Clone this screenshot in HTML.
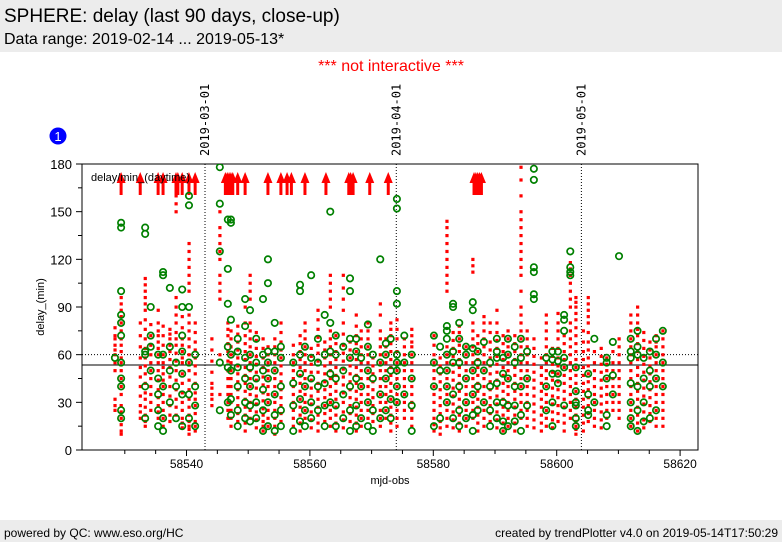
<!DOCTYPE html>
<html><head><meta charset="utf-8"><style>
body{margin:0;width:782px;height:542px;background:#fff;font-family:"Liberation Sans",sans-serif;overflow:hidden;position:relative}
.hdr{position:absolute;left:0;top:0;width:782px;height:52px;background:#ececec}
.ftr{position:absolute;left:0;top:520px;width:782px;height:22px;background:#ececec;font-size:12px}
</style></head><body>
<div class="hdr">
<div style="position:absolute;left:4px;top:6px;font-size:19px">SPHERE: delay (last 90 days, close-up)</div>
<div style="position:absolute;left:4px;top:31px;font-size:16px">Data range: 2019-02-14 ... 2019-05-13*</div>
</div>
<div style="position:absolute;left:0;width:782px;top:58px;text-align:center;color:#ff0000;font-size:16px">*** not interactive ***</div>
<div class="ftr">
<span style="position:absolute;left:4px;top:6px">powered by QC: www.eso.org/HC</span>
<span style="position:absolute;right:4px;top:6px">created by trendPlotter v4.0 on 2019-05-14T17:50:29</span>
</div>
<svg id="chart" width="782" height="542" style="position:absolute;left:0;top:0"></svg>
<script>
const xTicks=[58540,58560,58580,58600,58620];
const yTicks=[0,30,60,90,120,150,180];
const dateLines=[58543,58574,58604];
const dateLabels=["2019-03-01","2019-04-01","2019-05-01"];
const refSolid=53.5, refDotted=60;
const nights=[528.4,529.4,532.5,533.3,534.2,535.4,536.2,537.3,538.3,539.3,540.4,541.4,544.1,545.4,546.7,547.2,548.3,549.5,550.3,551.3,552.4,553.2,554.3,555.3,557.3,558.4,559.2,560.2,561.3,562.4,563.3,564.2,565.4,566.5,567.5,568.3,569.4,570.2,571.4,572.3,573.1,574.1,575.3,576.5,580.1,581.1,582.2,583.2,584.2,585.3,586.4,587.2,588.2,589.2,590.3,591.3,592.1,593.2,594.2,595.2,596.3,597.5,598.3,599.3,600.2,601.2,602.2,603.1,604.3,605.1,606.1,607.2,608.1,609.1,610.1,612.0,613.1,614.1,615.1,616.1,617.2].map(v=>58000+v);
const redVals=[[25,28,32,50,55,60,63,66,70,72,77],[10,12,16,20,24,28,35,40,45,50,55,58,62,66,70,75,80,84,88,92,96],[20,24,28,34,40,46,52,58,65,72,80],[15,18,22,27,32,36,42,48,53,58,64,70,76,82,88,92,96,100,104,108],[25,30,35,40,45,50,55,60,66,72,79],[20,24,28,33,38,44,50,55,60,64,68,72,75,80,88],[15,20,25,30,35,40,44,48,52,55,60,66,72,78],[18,22,28,34,40,46,52,57,62,66,70,73,76],[22,27,32,38,44,50,56,61,66,70,74,80,85,90,96,150,155,160],[14,17,20,25,30,36,42,48,55,58,62,66,70,77,84],[10,13,15,18,22,27,32,38,44,50,55,60,65,70,75,80,85,100,105,110,115,120,125,130],[12,15,18,23,28,32,36,42,48,53,58,63,68,74,80],[28,32,35,39,42,49,56,63,70],[35,60,95,100,105,110,120,125,130,135,140,150],[20,25,30,35,40,45,50,56,62,67,72,76,80],[15,20,25,30,35,40,45,50,55,60,65,70,75],[18,23,28,33,38,43,48,53,58,63,68,73,78],[12,17,22,27,32,37,42,47,52,57,62,67,72,80,90],[20,25,30,35,40,45,50,55,60,65,70,75,80,95,100,105,110],[14,19,24,29,34,39,44,49,54,59,64,69,74],[12,15,18,22,26,31,36,41,46,52,58,64,70],[15,20,25,30,35,40,45,50,55,60,65],[10,15,20,25,30,35,40,45,50,55,60,65,70],[18,23,28,33,38,43,48,53,58,63,68,74,80],[15,20,25,30,35,40,45,50,55,60,66],[12,17,22,27,32,37,42,47,52,57,62,67,72],[20,25,30,35,40,45,50,55,60,65,70,75,80],[14,19,24,29,34,39,44,49,54,59,64],[12,17,22,27,32,37,42,49,56,61,66,71,76,82,88],[18,23,28,33,38,43,48,53,58,63,68],[15,20,25,30,35,40,45,50,55,60,65,70,75,90,95,100,105,110],[12,17,22,27,32,37,42,47,52,57,62,67,72],[14,19,24,30,36,41,46,51,56,61,66,73,80,88,95,102,110],[18,23,28,33,38,43,48,53,58,63,68],[12,17,22,27,32,37,42,47,52,57,62,67,72,78,85],[15,20,25,30,35,40,45,50,55,60,65,70,75],[20,25,30,35,40,45,50,55,60,65,70,75,80],[18,23,28,33,38,43,48,53,58],[15,20,25,30,35,40,45,50,55,60,65,70,75,85,92],[20,25,30,35,40,45,50,55,60,65,70],[12,17,22,27,32,37,42,47,52,57,62,67,72,76,80],[15,20,25,30,35,40,45,50,55,62,70,76,82],[20,25,30,35,40,45,50,55,60,65,70],[15,20,25,30,35,40,45,50,55,60,65,68,72,76],[12,16,20,25,30,35,40,45,50,55,60,66,72],[10,14,18,23,28,33,38,43,48,53,58],[15,20,25,30,35,40,45,50,55,60,65,100,105,110,115,120,125,130,135,140,144],[14,19,24,29,34,39,44,49,54,59,64,69,74],[12,17,22,27,32,37,42,47,52,57,62,66,70,74,78],[15,20,25,30,35,40,45,50,55,60,65],[20,25,30,35,40,45,50,55,60,65,70,75,80,112,116,120],[12,17,22,27,32,37,42,47,52,57,62,67,72],[15,20,25,30,35,40,45,50,55,60,65,70,75,80,84],[18,23,28,33,38,43,48,53,58,63,68,74,80],[14,19,24,29,34,39,44,49,54,59,64,69,74,80,88],[12,17,22,27,32,37,42,47,52,57,62,67,72],[15,20,25,30,35,40,45,50,55,60,65,70,75],[12,17,22,27,32,37,42,47,52,57,62,67,72],[20,25,30,35,40,45,50,55,60,65,70,75,80,85,90,100,110,115,120,125,130,135,140,145,150,160,170,178],[15,20,25,30,35,40,45,50,55,60,65,70,75],[14,19,24,29,34,39,44,49,54,59,64,70],[12,17,22,27,32,37,42,47,52,58],[15,20,25,30,35,40,45,50,55,60,65,70,75,80,85],[14,19,24,29,34,39,44,49,54,59,64],[18,23,28,33,38,43,48,53,58,64,70,75,80,86],[12,17,22,27,32,37,42,47,52,57,62,67,72],[20,25,30,35,40,45,50,55,60,65,70,75,80,90,95,100,105,110,114,118],[10,13,15,18,22,27,32,37,42,47,52,57,62,67,72,77,82,86,90,93,96],[12,17,22,27,32,37,42,47,52,57,62,68,75],[18,23,28,33,38,43,48,53,58,63,68,74,80,84,88,92,96],[15,20,25,30,35,40,45,50,55,62],[14,19,24,29,34,39,44,49,54,59,64],[20,25,30,35,40,45,50,54,58],[25,30,35,40,45,50,55,62],[20,25,30,35,40,45,50,55,60,65,70],[15,20,25,30,35,40,45,50,55,60,65,70,75,80,85],[12,17,22,27,32,37,42,47,52,57,62,67,72,76,80,85,90],[14,19,24,29,34,39,44,49,54,59,64,69,74],[18,23,28,33,38,43,48,53,58,63,68],[15,20,25,30,35,40,45,50,55,60,65,68,72],[15,20,25,30,35,40,45,50,55,60,65,70,75]];
const greenVals=[[58],[20,25,40,45,55,72,80,85,100,140,143],[],[20,40,60,62,136,140],[50,65,72,90],[15,25,35,45,60],[12,20,40,60,110,112],[30,50,65,102],[20,40,55],[15,35,48,62,72,90,101],[20,35,55,90,154,160],[15,28,40,60],[],[25,55,125,155,178],[30,52,65,92,114,145],[22,32,50,60,82,143,145],[15,25,40,52,62,70],[20,30,45,58,78,95],[18,28,40,52,60,88],[20,30,45,55,70],[12,25,38,50,60,95],[15,30,45,55,62,105,120],[12,22,35,50,62,80],[15,25,40,58,65],[12,28,42,55],[18,32,48,60,100,104],[15,25,40,65],[20,30,45,58,110],[25,40,55,70],[15,28,42,60,85],[30,48,62,80,150],[15,28,45,60,72],[20,35,50,65],[12,25,40,58,70,100,108],[15,28,45,62,70],[20,40,58],[15,30,50,65,79],[12,25,45,60],[20,35,55,120],[25,45,60,67],[20,32,50,70],[30,40,50,55,60,92,100,152,158],[35,55,72],[12,28,45,60],[15,40,55,72],[20,50,65],[30,40,50,60,70,75,78],[20,35,55,62,90,92],[15,25,40,55,70,80],[20,30,45,60,65],[12,22,35,50,64,88,93],[25,40,55,62],[30,50,68],[15,25,40,55],[20,30,42,58,62,70],[12,18,30,48,58],[15,28,45,60,70],[18,28,40,55,65],[12,22,40,58,70],[28,45,62],[95,98,112,115,170,177],[],[25,40,58],[15,30,48,57,62],[42,48,56,62],[28,52,58,75,82,85],[110,112,115,125],[15,20,28,30,37,52],[],[22,25,35,48],[30,70],[],[15,22,45,55,58],[35,47,68],[122],[15,20,30,42,58,62,70],[12,25,40,60,65,75],[18,30,45,58],[20,40,50,62],[25,45,60,70],[40,55,75]];
const arrows=[529.4,532.5,535.4,536.2,538.3,538.6,539.3,540.4,541.4,546.3,546.6,546.9,547.2,547.5,548.3,549.5,553.2,555.3,556.3,557.0,559.2,562.6,566.3,566.6,567.0,569.7,572.7,586.6,586.9,587.2,587.5,587.8].map(v=>58000+v);

const L=82,R=698,T=164,B=450;
const xs=v=>186.5+(v-58540)*6.17;
const ys=v=>B-(v/180)*(B-T);
const svg=document.getElementById('chart');
const NS='http://www.w3.org/2000/svg';
function mk(tag,attrs,parent){const e=document.createElementNS(NS,tag);for(const k in attrs)e.setAttribute(k,attrs[k]);(parent||svg).appendChild(e);return e;}
const frame=mk('rect',{x:L,y:T,width:R-L,height:B-T,fill:'#fff',stroke:'#000','stroke-width':1});


const clip=mk('clipPath',{id:'cp'});mk('rect',{x:L,y:T,width:R-L,height:B-T},clip);
yTicks.forEach(v=>{
 mk('line',{x1:L-6,x2:L,y1:ys(v),y2:ys(v),stroke:'#000'});
 const t=mk('text',{x:L-10,y:ys(v)+5,'text-anchor':'end','font-size':13,fill:'#000'});t.textContent=v;
 
 
 if(v<180)mk('line',{x1:L-4,x2:L,y1:ys(v+15),y2:ys(v+15),stroke:'#000'});
});
for(let m=58530;m<=58620;m+=5){const x=xs(m);if(x>L&&x<R)mk('line',{x1:x,x2:x,y1:B,y2:B+(m%20==0?6:4),stroke:'#000'});}
xTicks.forEach(v=>{const t=mk('text',{x:xs(v),y:B+18,'text-anchor':'middle','font-size':12});t.textContent=v;
 
 });
const xt=mk('text',{x:390,y:B+34,'text-anchor':'middle','font-size':11});xt.textContent='mjd-obs';


const yt=mk('text',{x:44,y:307,'text-anchor':'middle','font-size':11,transform:'rotate(-90 44 307)'});yt.textContent='delay_(min)';


dateLines.forEach((m,i)=>{const x=xs(m);
 const ln=mk('line',{x1:x,x2:x,y1:T,y2:B,stroke:'#000','stroke-dasharray':'1,2'});
 
 
 const t=mk('text',{x:x+4,y:156,'font-size':12,'font-family':'DejaVu Sans Mono, monospace',transform:`rotate(-90 ${x+4} 156)`});t.textContent=dateLabels[i];
 
 });
const rs=mk('line',{x1:L,x2:R,y1:ys(refSolid),y2:ys(refSolid),stroke:'#000'});


const rd=mk('line',{x1:L,x2:R,y1:ys(refDotted),y2:ys(refDotted),stroke:'#000','stroke-dasharray':'1,2'});


const g=mk('g',{'clip-path':'url(#cp)'});
nights.forEach((m,i)=>{redVals[i].forEach(v=>{const r=mk('rect',{x:xs(m)-1.5,y:ys(v)-1.5,width:3.2,height:3.2,fill:'#ff0000'},g);
 
 });});
arrows.forEach(m=>{const x=xs(m);
 const a=mk('g',{},g);
 
 
 mk('line',{x1:x,x2:x,y1:178,y2:195,stroke:'#ff0000','stroke-width':3},a);
 mk('polygon',{points:`${x-4.5},183 ${x+4.5},183 ${x},172`,fill:'#ff0000'},a);});
nights.forEach((m,i)=>{greenVals[i].forEach(v=>{const c=mk('circle',{cx:xs(m),cy:ys(v),r:3.2,fill:'none',stroke:'#008000','stroke-width':1.7},g);
 
 });});
const lg=mk('text',{x:91,y:181,'font-size':11});lg.textContent='delay/min_(daytime)';


const bc=mk('circle',{cx:58,cy:136,r:8.5,fill:'#0000ff'});


const bt=mk('text',{x:58,y:141,'text-anchor':'middle','font-size':13,fill:'#fff'});bt.textContent='1';


</script>
</body></html>
